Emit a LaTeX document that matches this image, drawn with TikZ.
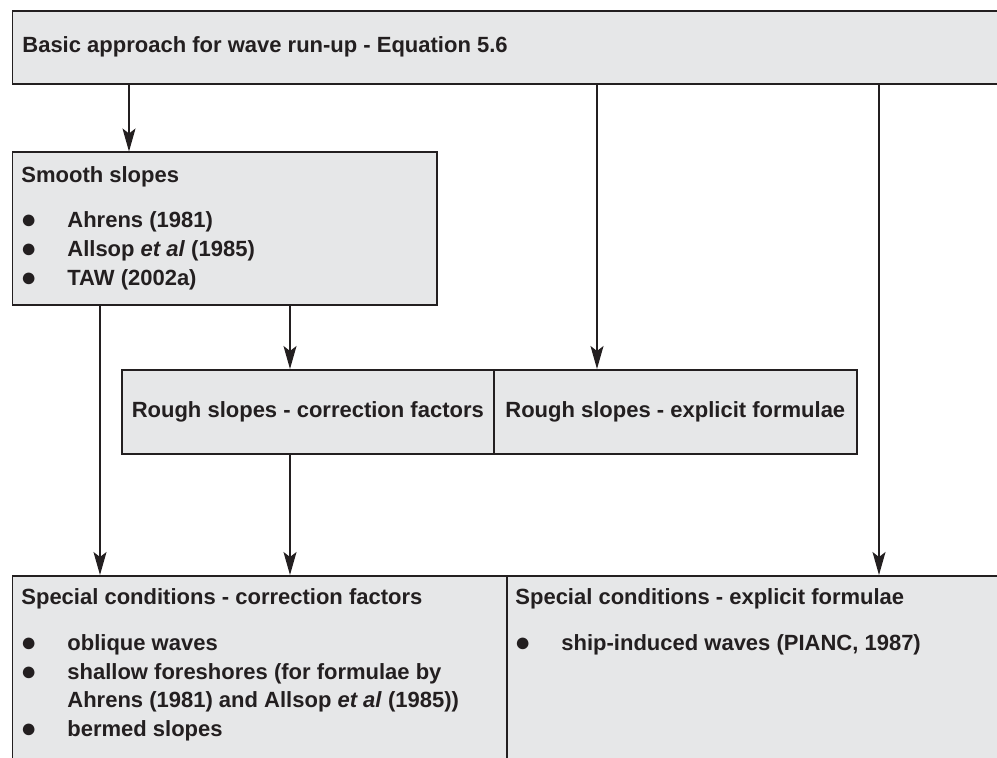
\documentclass[tikz,border=0pt]{standalone}
\usepackage{fontspec}
\setmainfont{Liberation Sans}
\usepackage{xcolor}
\usepackage{tikz}
\usetikzlibrary{arrows.meta,positioning}

\definecolor{boxgrey}{HTML}{E6E7E8}
\definecolor{inkblack}{HTML}{231F20}

\tikzset{
    panel/.style={draw=inkblack, fill=boxgrey, line width=0.8pt, inner sep=0pt, anchor=north west,
        text=inkblack, font=\fontsize{11}{13}\selectfont\bfseries},
    heading/.style={anchor=base west, inner sep=0pt, text=inkblack, font=\fontsize{11}{13}\selectfont\bfseries},
    bulletmark/.style={heading, xshift=-0.4pt, yshift=-0.3pt, font=\fontsize{13.5}{13}\selectfont},
    flow/.style={draw=inkblack, line width=0.6pt, -{Stealth[length=11.5pt, width=6.5pt, inset=2.5pt]}},
}

\begin{document}
\begin{tikzpicture}[x=0.5pt, y=-0.5pt]
    \useasboundingbox (0,0) rectangle (997,758);
    \clip (0,0) rectangle (997,758);

    \node[panel, minimum width=504.15pt, minimum height=36.5pt] (basic) at (11.7,10) {};
    \node[heading] (basictxt) at (22,53) {Basic approach for wave run-up - Equation 5.6};

    \node[panel, minimum width=212.15pt, minimum height=76.25pt] (smooth) at (11.7,151.5) {};
    \node[heading] (smoothtxt) at (21,183) {Smooth slopes};
    \node[bulletmark] (sb1) at (21,228) {●};
    \node[heading] (si1) at (67,228) {Ahrens (1981)};
    \node[bulletmark] (sb2) at (21,257) {●};
    \node[heading] (si2) at (67,257) {Allsop \textit{et al} (1985)};
    \node[bulletmark] (sb3) at (21,286) {●};
    \node[heading] (si3) at (67,286) {TAW (2002a)};

    \node[panel, minimum width=186pt, minimum height=42pt] (roughcf) at (121,369) {Rough slopes - correction factors};
    \node[panel, minimum width=181.5pt, minimum height=42pt] (roughef) at (493,369) {Rough slopes - explicit formulae};

    \node[panel, minimum width=247.15pt, minimum height=112.5pt] (specialcf) at (11.7,575) {};
    \node[heading] (specialcftxt) at (21,605) {Special conditions - correction factors};
    \node[bulletmark] (cb1) at (21,651) {●};
    \node[heading] (ci1) at (67,651) {oblique waves};
    \node[bulletmark] (cb2) at (21,680) {●};
    \node[heading] (ci2) at (67,680) {shallow foreshores (for formulae by};
    \node[heading] (ci2b) at (67,708) {Ahrens (1981) and Allsop \textit{et al} (1985))};
    \node[bulletmark] (cb3) at (21,737) {●};
    \node[heading] (ci3) at (67,737) {bermed slopes};

    \node[panel, minimum width=257pt, minimum height=112.5pt] (specialef) at (506,575) {};
    \node[heading] (specialeftxt) at (515,605) {Special conditions - explicit formulae};
    \node[bulletmark] (eb1) at (515,651) {●};
    \node[heading] (ei1) at (561,651) {ship-induced waves (PIANC, 1987)};

    \coordinate (colA) at (100,0);
    \coordinate (colB) at (129,0);
    \coordinate (colC) at (290,0);
    \coordinate (colD) at (597,0);
    \coordinate (colE) at (879,0);

    \draw[flow] (basic.south -| colB) -- (smooth.north -| colB);
    \draw[flow] (basic.south -| colD) -- (roughef.north -| colD);
    \draw[flow] (basic.south -| colE) -- (specialef.north -| colE);
    \draw[flow] (smooth.south -| colC) -- (roughcf.north -| colC);
    \draw[flow] (smooth.south -| colA) -- (specialcf.north -| colA);
    \draw[flow] (roughcf.south -| colC) -- (specialcf.north -| colC);
\end{tikzpicture}
\end{document}
